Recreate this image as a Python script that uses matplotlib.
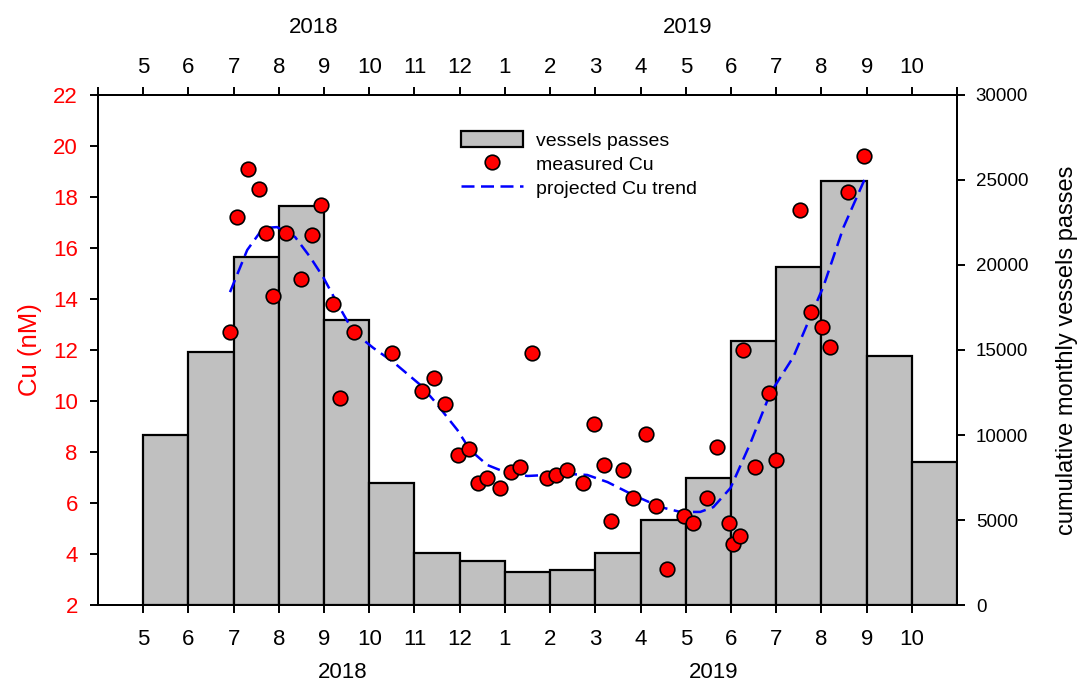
import matplotlib.pyplot as plt
from matplotlib.lines import Line2D
from matplotlib.patches import Patch

plt.rcParams['font.family'] = ['Liberation Sans', 'DejaVu Sans']

# months shown on the axis (May 2018 .. Oct 2019)
months = ['5', '6', '7', '8', '9', '10', '11', '12', '1', '2', '3', '4',
          '5', '6', '7', '8', '9', '10']

# cumulative monthly vessel passes, one bar per month
vessels = [10000, 14900, 20450, 23450, 16750, 7200, 3050, 2600, 1950, 2050,
           3050, 5000, 7450, 15500, 19900, 24950, 14650, 8400]

# measured Cu (x in months from May 2018)
cu_t = [1.92, 2.08, 2.32, 2.57, 2.72, 2.88, 3.16, 3.50, 3.74, 3.94, 4.20,
        4.36, 4.67, 5.51, 6.17, 6.44, 6.68, 6.97, 7.21, 7.41, 7.61, 7.90,
        8.14, 8.34, 8.60, 8.92, 9.14, 9.38, 9.73, 9.98, 10.20, 10.35, 10.62,
        10.84, 11.13, 11.35, 11.59, 11.95, 12.17, 12.46, 12.70, 12.96, 13.05,
        13.19, 13.27, 13.52, 13.85, 14.00, 14.53, 14.76, 15.02, 15.20, 15.58,
        15.95]
cu_val = [12.7, 17.2, 19.1, 18.3, 16.6, 14.1, 16.6, 14.8, 16.5, 17.7, 13.8,
          10.1, 12.7, 11.9, 10.4, 10.9, 9.9, 7.9, 8.1, 6.8, 7.0, 6.6,
          7.2, 7.4, 11.9, 7.0, 7.1, 7.3, 6.8, 9.1, 7.5, 5.3, 7.3,
          6.2, 8.7, 5.9, 3.4, 5.5, 5.2, 6.2, 8.2, 5.2, 4.4,
          4.7, 12.0, 7.4, 10.3, 7.7, 17.5, 13.5, 12.9, 12.1, 18.2,
          19.6]

# projected Cu trend
trend_t = [1.92, 2.30, 2.65, 2.96, 3.36, 3.69, 3.98, 4.29, 4.65, 5.09, 5.53,
           6.13, 6.42, 6.95, 7.23, 7.61, 8.05, 8.50, 9.38, 9.82, 10.27, 10.84,
           11.44, 11.88, 12.32, 12.61, 12.99, 13.43, 13.87, 14.38, 14.82,
           15.04, 15.49, 15.97]
trend_val = [14.27, 15.92, 16.78, 16.82, 16.43, 15.65, 14.86, 13.84, 12.71,
             12.08, 11.53, 10.63, 10.04, 8.86, 8.08, 7.49, 7.18, 7.06, 7.14,
             7.10, 6.82, 6.31, 5.84, 5.65, 5.65, 5.84, 6.59, 8.35, 10.31,
             11.73, 13.57, 14.47, 16.82, 18.75]

fig = plt.figure(figsize=(10.79, 6.81), dpi=100)
ax = fig.add_axes([0.0908, 0.1116, 0.7962, 0.7489])
ax2 = ax.twinx()
ax.set_zorder(ax2.get_zorder() + 1)
ax.patch.set_visible(False)

# bars on right axis
x = list(range(len(months)))
ax2.bar(x, vessels, width=1.0, align='edge', color='#c0c0c0',
        edgecolor='black', linewidth=1.6)
ax2.set_ylim(0, 30000)
ax2.set_yticks(range(0, 30001, 5000))
ax2.tick_params(axis='y', labelsize=13.5, length=5.5, width=1.4, pad=8)
ax2.set_ylabel('cumulative monthly vessels passes', fontsize=17, labelpad=20)

# Cu points + trend on left axis
ax.plot(trend_t, trend_val, color='blue', linewidth=1.8, dashes=(5.2, 2.6))
ax.plot(cu_t, cu_val, 'o', color='red', markeredgecolor='black',
        markersize=10.5, markeredgewidth=1.2, linestyle='none')
ax.set_ylim(2, 22)
ax.set_yticks(range(2, 23, 2))
ax.tick_params(axis='y', labelcolor='red', labelsize=16, length=5.5,
               width=1.4, pad=9)
ax.set_ylabel('Cu (nM)', color='red', fontsize=18.5, labelpad=8)

ax.set_xlim(-1, 18)
ax.set_xticks(x)
ax.set_xticklabels(months, fontsize=16)
ax.tick_params(axis='x', length=5.5, width=1.4, pad=11.5)

top = ax.secondary_xaxis('top')
top.set_xticks(list(range(-1, 19)))
top.set_xticklabels([''] + months + [''])
top.tick_params(axis='x', length=5.5, width=1.4, labelsize=16, pad=6.5)
top.spines['top'].set_linewidth(1.4)

for a in (ax, ax2):
    for s in a.spines.values():
        s.set_linewidth(1.4)

# year labels
xt = ax.get_xaxis_transform()
ax.text(3.76, 1.1216, '2018', transform=xt, ha='center', va='baseline',
        fontsize=16)
ax.text(12.03, 1.1216, '2019', transform=xt, ha='center', va='baseline',
        fontsize=16)
ax.text(4.42, -0.1431, '2018', transform=xt, ha='center', va='baseline',
        fontsize=16)
ax.text(12.62, -0.1431, '2019', transform=xt, ha='center', va='baseline',
        fontsize=16)

handles = [Patch(facecolor='#c0c0c0', edgecolor='black', linewidth=1.6),
           Line2D([], [], marker='o', color='red', markeredgecolor='black',
                  markersize=10.5, markeredgewidth=1.2, linestyle='none'),
           Line2D([], [], color='blue', linewidth=1.8, dashes=(5.2, 2.6))]
ax.legend(handles, ['vessels passes', 'measured Cu', 'projected Cu trend'],
          loc='upper left', bbox_to_anchor=(0.4225, 0.929), frameon=False,
          fontsize=14, handlelength=3.2, handleheight=0.9,
          handletextpad=0.65, labelspacing=0.26, borderpad=0, borderaxespad=0)

fig.savefig('out.png', dpi=100)
